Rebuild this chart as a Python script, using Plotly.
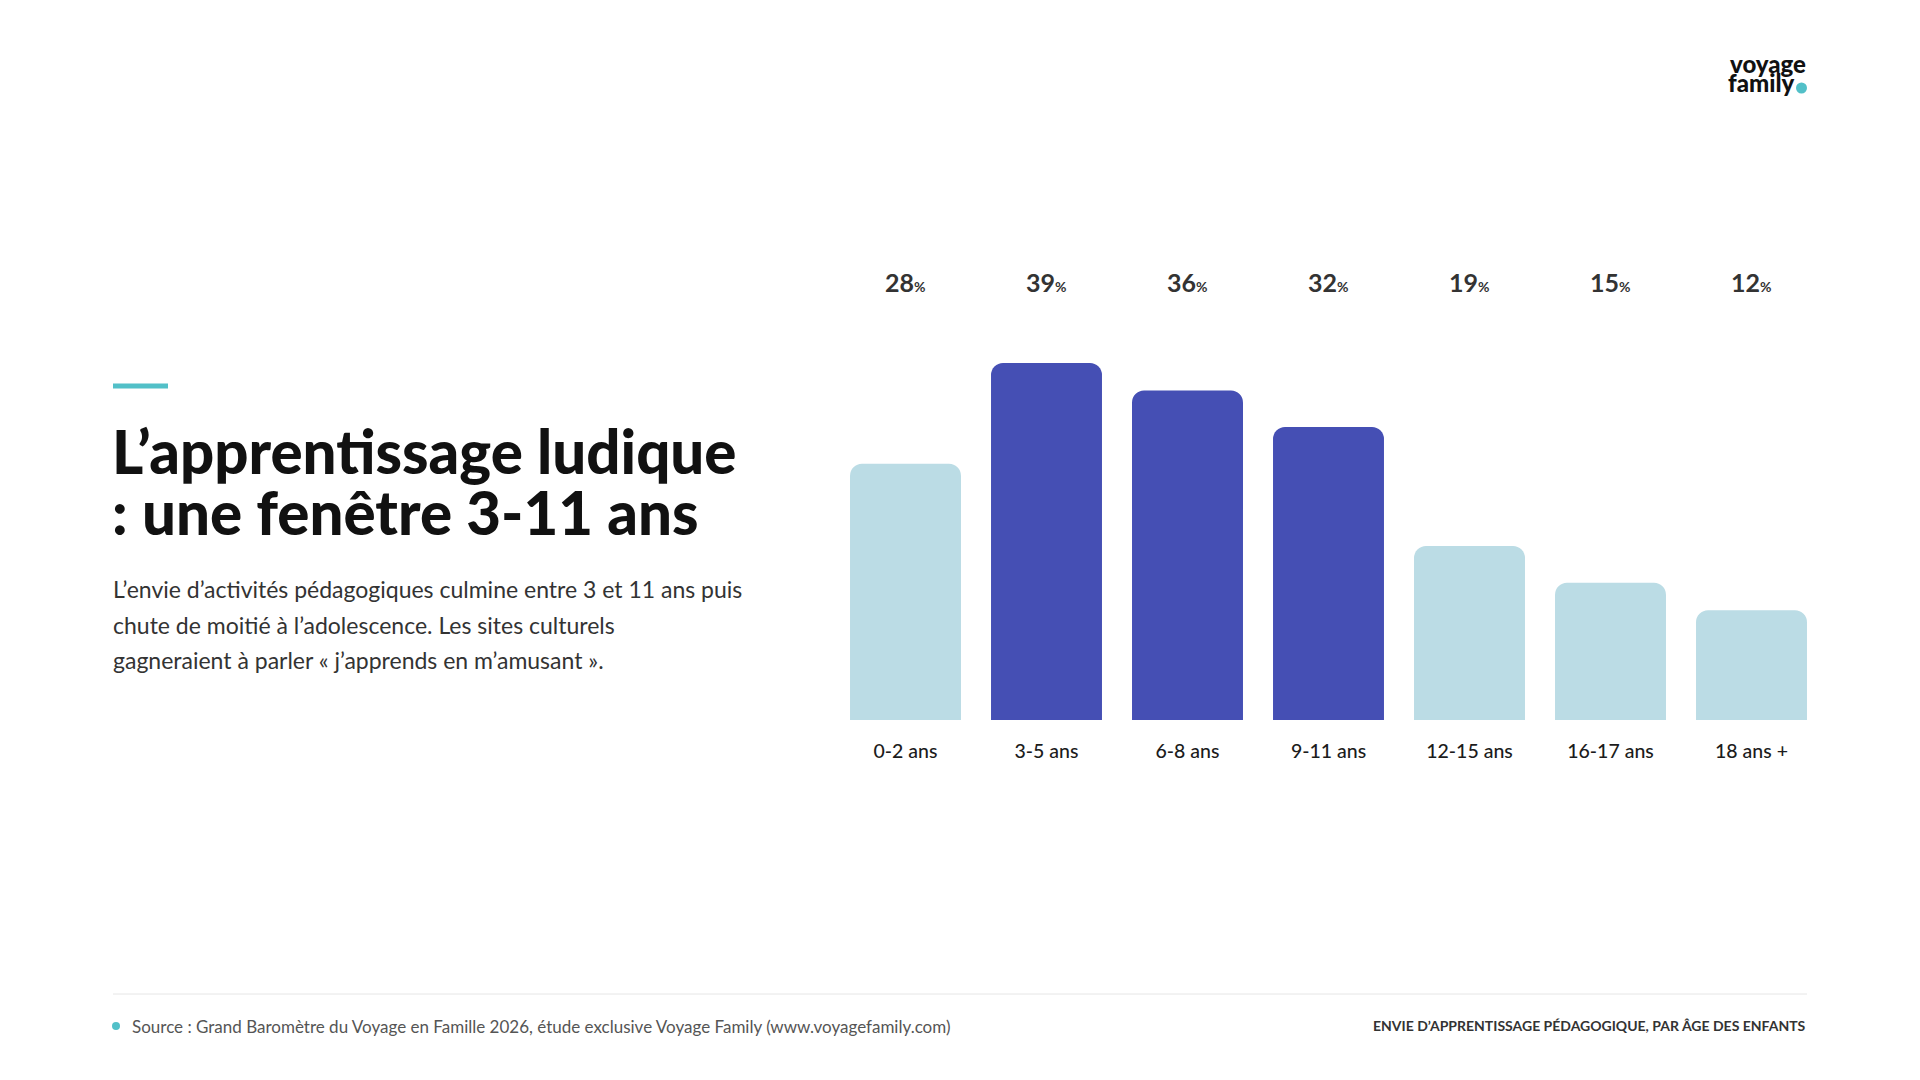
import plotly.graph_objects as go

categories = ["0-2 ans", "3-5 ans", "6-8 ans", "9-11 ans", "12-15 ans", "16-17 ans", "18 ans +"]
values = [28, 39, 36, 32, 19, 15, 12]
highlight = [False, True, True, True, False, False, False]

title_lines = ["L’apprentissage ludique", ": une fenêtre 3-11 ans"]
body_lines = [
    "L’envie d’activités pédagogiques culmine entre 3 et 11 ans puis",
    "chute de moitié à l’adolescence. Les sites culturels",
    "gagneraient à parler « j’apprends en m’amusant ».",
]
source_text = "Source : Grand Baromètre du Voyage en Famille 2026, étude exclusive Voyage Family (www.voyagefamily.com)"
chart_label = "ENVIE D’APPRENTISSAGE PÉDAGOGIQUE, PAR ÂGE DES ENFANTS"

DARK = "#454FB4"
LIGHT = "#BBDCE5"
TEAL = "#52C0C8"
FONT = "Lato"
W, H = 1920, 1080

def px(x):
    return x / W

def py(y):
    return 1 - y / H

fig = go.Figure()
fig.add_trace(go.Bar(
    x=categories, y=values,
    marker=dict(color=[DARK if h else LIGHT for h in highlight], line=dict(width=0)),
    hoverinfo="skip",
))

fig.update_layout(
    width=W, height=H,
    margin=dict(l=0, r=0, t=0, b=0),
    paper_bgcolor="white", plot_bgcolor="white",
    showlegend=False,
    bargap=0.213,
    barcornerradius=12,
    font=dict(family=FONT),
    xaxis=dict(domain=[px(835), px(1822)], range=[-0.5, 6.5], showgrid=False, zeroline=False,
               showline=False, ticks="", tickfont=dict(family=FONT, size=19.5, color="#1c1c1c", weight=500),
               ticklabelstandoff=17, fixedrange=True),
    yaxis=dict(domain=[py(720), py(262.3)], range=[0, 50], visible=False, fixedrange=True),
)

ann = []
# value labels
for c, v in zip(categories, values):
    ann.append(dict(x=c, y=47.9, xref="x", yref="y", showarrow=False, xanchor="center", yanchor="middle",
                    text=f"<b>{v}</b><span style='font-size:14px'><b>%</b></span>",
                    font=dict(family=FONT, size=25, color="#333333")))

# title
for i, line in enumerate(title_lines):
    ann.append(dict(x=px(110), y=py(451 + i * 61), xref="paper", yref="paper", showarrow=False,
                    xanchor="left", yanchor="middle", text=line,
                    font=dict(family=FONT, size=60, color="#111111", weight=900)))

# body
for i, line in enumerate(body_lines):
    ann.append(dict(x=px(111), y=py(589 + i * 35.5), xref="paper", yref="paper", showarrow=False,
                    xanchor="left", yanchor="middle", text=line,
                    font=dict(family=FONT, size=23, color="#333333")))

# footer
ann.append(dict(x=px(130), y=py(1026), xref="paper", yref="paper", showarrow=False, xanchor="left",
                yanchor="middle", text=source_text, font=dict(family=FONT, size=17, color="#555555")))
ann.append(dict(x=px(1808), y=py(1025), xref="paper", yref="paper", showarrow=False, xanchor="right",
                yanchor="middle", text=chart_label, font=dict(family=FONT, size=14, color="#333333", weight=700)))

# logo
ann.append(dict(x=px(1808), y=py(63), xref="paper", yref="paper", showarrow=False, xanchor="right",
                yanchor="middle", text="voyage", font=dict(family=FONT, size=24, color="#111111", weight=900)))
ann.append(dict(x=px(1726), y=py(83), xref="paper", yref="paper", showarrow=False, xanchor="left",
                yanchor="middle", text="family", font=dict(family=FONT, size=24, color="#111111", weight=900)))

fig.update_layout(annotations=ann)

shapes = [
    # accent bar
    dict(type="rect", xref="paper", yref="paper", x0=px(113), x1=px(168), y0=py(388.5), y1=py(383.5),
         fillcolor=TEAL, line=dict(width=0)),
    # footer rule
    dict(type="line", xref="paper", yref="paper", x0=px(113), x1=px(1807), y0=py(994), y1=py(994),
         line=dict(color="#e6e6e6", width=1)),
    # source dot
    dict(type="circle", xref="paper", yref="paper", x0=px(112), x1=px(120), y0=py(1030), y1=py(1022),
         fillcolor=TEAL, line=dict(width=0)),
    # logo dot
    dict(type="circle", xref="paper", yref="paper", x0=px(1796), x1=px(1807), y0=py(93.5), y1=py(82.5),
         fillcolor=TEAL, line=dict(width=0)),
]
fig.update_layout(shapes=shapes)

fig.write_html("out.html", config={"displayModeBar": False})
